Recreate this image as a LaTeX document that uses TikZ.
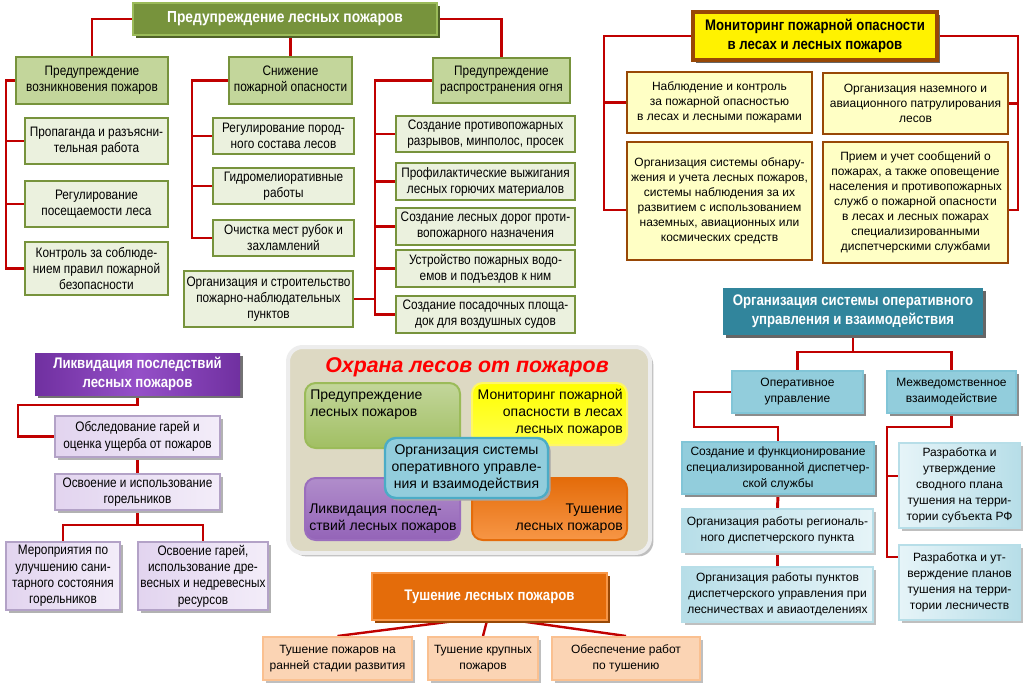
\documentclass[tikz,border=0pt]{standalone}
\usepackage{fontspec}
\setmainfont{Liberation Sans}
\newfontfamily\nar{Liberation Sans}[FakeStretch=0.86]
\usetikzlibrary{shadows,calc,backgrounds}
\definecolor{cred}{HTML}{C00000}
\definecolor{gdark}{HTML}{77933C}
\definecolor{glight}{HTML}{9BBB59}
\definecolor{gmid}{HTML}{C3D69B}
\definecolor{gpale}{HTML}{EBF1DE}
\definecolor{gshad}{HTML}{4F6228}
\definecolor{ybrown}{HTML}{984806}
\definecolor{ypale}{HTML}{FFFFC5}
\definecolor{pdark}{HTML}{7030A0}
\definecolor{plight}{HTML}{9550C8}
\definecolor{pbord}{HTML}{B3A2C7}
\definecolor{ppale}{HTML}{E2D4EF}
\definecolor{ppale2}{HTML}{F3EDF9}
\definecolor{bdark}{HTML}{31859C}
\definecolor{bmid}{HTML}{92CDDC}
\definecolor{bbord}{HTML}{4BACC6}
\definecolor{blight}{HTML}{B7DEE8}
\definecolor{bpale}{HTML}{E6F4F8}
\definecolor{odark}{HTML}{E46C0A}
\definecolor{omid}{HTML}{F79646}
\definecolor{opale}{HTML}{FBD4B4}
\definecolor{obord}{HTML}{FAC090}
\definecolor{cframe}{HTML}{DDD9C3}
\newcommand\mybox[7]{%
 \pgfmathsetmacro\bX{(#3+#5)/2}%
 \pgfmathsetmacro\bY{(#4+#6)/2}%
 \pgfmathsetmacro\bW{(#5-#3)*0.75}%
 \pgfmathsetmacro\bH{(#6-#4)*0.75}%
 \node[#1, minimum width=\bW pt, minimum height=\bH pt] (#2) at (\bX,\bY) {#7};}
\tikzset{
 conn/.style={draw=cred, line width=2.2pt},
 base/.style={align=center, inner sep=1pt},
 gtitle/.style={base, fill=gdark, draw=glight, line width=2pt, text=white,
   font=\nar\bfseries\fontsize{12}{14}\selectfont,
   drop shadow={shadow xshift=2.5pt, shadow yshift=-2.5pt, fill=gshad, opacity=1}},
 gpar/.style={base, fill=gmid, draw=gdark, line width=2pt, font=\nar\fontsize{10.3}{12}\selectfont},
 gch/.style={base, fill=gpale, draw=gdark, line width=2pt, font=\nar\fontsize{10.3}{12}\selectfont},
 ytitle/.style={base, fill=yellow, draw=ybrown, line width=2.5pt,
   font=\nar\bfseries\fontsize{11.5}{14}\selectfont,
   drop shadow={shadow xshift=2.5pt, shadow yshift=-2.5pt, fill=black!60, opacity=1}},
 ych/.style={base, fill=ypale, draw=ybrown, line width=2.2pt, font=\fontsize{9}{11.3}\selectfont},
 ptitle/.style={base, left color=pdark, right color=pdark, middle color=plight, text=white,
   font=\nar\bfseries\fontsize{11.5}{14}\selectfont,
   drop shadow={shadow xshift=2.5pt, shadow yshift=-2.5pt, fill=black!55, opacity=1}},
 pch/.style={base, left color=ppale, right color=ppale2, draw=pbord, line width=1.8pt,
   font=\nar\fontsize{10.3}{12.3}\selectfont,
   drop shadow={shadow xshift=2pt, shadow yshift=-2pt, fill=black!30, opacity=1}},
 btitle/.style={base, fill=bdark, text=white,
   font=\nar\bfseries\fontsize{11.5}{14}\selectfont,
   drop shadow={shadow xshift=2.5pt, shadow yshift=-2.5pt, fill=black!60, opacity=1}},
 bmidbox/.style={base, fill=bmid, draw=bbord!70, line width=1.5pt, font=\fontsize{9}{12}\selectfont,
   drop shadow={shadow xshift=2pt, shadow yshift=-2pt, fill=black!45, opacity=1}},
 bch/.style={base, left color=blight, right color=bpale, draw=blight, line width=1.5pt,
   font=\fontsize{9}{12}\selectfont,
   drop shadow={shadow xshift=2pt, shadow yshift=-2pt, fill=black!25, opacity=1}},
 bchr/.style={base, left color=bpale, right color=blight, draw=blight, line width=1.5pt,
   font=\fontsize{9}{12}\selectfont,
   drop shadow={shadow xshift=2pt, shadow yshift=-2pt, fill=black!25, opacity=1}},
 otitle/.style={base, fill=odark, draw=omid, line width=1pt, text=white,
   font=\nar\bfseries\fontsize{11.5}{14}\selectfont,
   drop shadow={shadow xshift=2.5pt, shadow yshift=-2.5pt, fill=ybrown, opacity=1}},
 och/.style={base, fill=opale, draw=obord, line width=1.5pt, font=\fontsize{9}{12}\selectfont,
   drop shadow={shadow xshift=2pt, shadow yshift=-2pt, fill=black!25, opacity=1}},
 cbox/.style={rounded corners=8pt, line width=1.5pt, minimum width=0pt},
 ctext/.style={inner sep=0pt, font=\fontsize{10.5}{12.8}\selectfont}
}
\begin{document}
\begin{tikzpicture}[x=0.75pt,y=-0.75pt]
\useasboundingbox (0,0) rectangle (1024,688);
% ---------- Предупреждение ----------
\mybox{gtitle}{pt}{133}{3}{437}{35}{Предупреждение лесных пожаров}
\mybox{gpar}{a}{16}{57}{168}{104}{Предупреждение\\возникновения пожаров}
\mybox{gpar}{s}{229}{57}{352}{104}{Снижение\\пожарной опасности}
\mybox{gpar}{c}{433}{58}{570}{103}{Предупреждение\\распространения огня}
\mybox{gch}{a1}{25}{118}{168}{164}{Пропаганда и разъясни-\\тельная работа}
\mybox{gch}{a2}{25}{181}{168}{227}{Регулирование\\посещаемости леса}
\mybox{gch}{a3}{25}{242}{168}{295}{Контроль за соблюде-\\нием правил пожарной\\безопасности}
\mybox{gch}{s1}{213}{118}{354}{154}{Регулирование пород-\\ного состава лесов}
\mybox{gch}{s2}{213}{168}{354}{204}{Гидромелиоративные\\работы}
\mybox{gch}{s3}{213}{220}{354}{256}{Очистка мест рубок и\\захламлений}
\mybox{gch}{s4}{184}{271}{353}{327}{Организация и строительство\\пожарно-наблюдательных\\пунктов}
\mybox{gch}{c1}{396}{116}{575}{152}{Создание противопожарных\\разрывов, минполос, просек}
\mybox{gch}{c2}{396}{163}{575}{200}{Профилактические выжигания\\лесных горючих материалов}
\mybox{gch}{c3}{396}{208}{575}{245}{Создание лесных дорог проти-\\вопожарного назначения}
\mybox{gch}{c4}{396}{250}{575}{287}{Устройство пожарных водо-\\емов и подъездов к ним}
\mybox{gch}{c5}{396}{296}{575}{333}{Создание посадочных площа-\\док для воздушных судов}
% ---------- Мониторинг ----------
\mybox{ytitle}{m}{693}{12}{937}{60}{Мониторинг пожарной опасности\\в лесах и лесных пожаров}
\mybox{ych}{m1}{627}{72}{812}{133}{Наблюдение и контроль\\за пожарной опасностью\\в лесах и лесными пожарами}
\mybox{ych}{m2}{823}{73}{1008}{134}{Организация наземного и\\авиационного патрулирования\\лесов}
\mybox{ych}{m3}{627}{142}{812}{260}{Организация системы обнару-\\жения и учета лесных пожаров,\\системы наблюдения за их\\развитием с использованием\\наземных, авиационных или\\космических средств}
\mybox{ych}{m4}{823}{142}{1008}{263}{Прием и учет сообщений о\\пожарах, а также оповещение\\населения и противопожарных\\служб о пожарной опасности\\в лесах и лесных пожарах\\специализированными\\диспетчерскими службами}
% ---------- Ликвидация ----------
\mybox{ptitle}{lt}{35}{353}{240}{395}{Ликвидация последствий\\лесных пожаров}
\mybox{pch}{l1}{55}{416}{220}{457}{Обследование гарей и\\оценка ущерба от пожаров}
\mybox{pch}{l2}{55}{474}{220}{510}{Освоение и использование\\горельников}
\mybox{pch}{l3}{6}{542}{120}{610}{Мероприятия по\\улучшению сани-\\тарного состояния\\горельников}
\mybox{pch}{l4}{138}{542}{268}{610}{Освоение гарей,\\использование дре-\\весных и недревесных\\ресурсов}
% ---------- Оперативное управление ----------
\mybox{btitle}{bt}{723}{288}{983}{335}{Организация системы оперативного\\управления и взаимодействия}
\mybox{bmidbox}{b1}{732}{371}{863}{413}{Оперативное\\управление}
\mybox{bmidbox}{b2}{887}{371}{1016}{413}{Межведомственное\\взаимодействие}
\mybox{bmidbox}{bb3}{682}{442}{874}{494}{Создание и функционирование\\специализированной диспетчер-\\ской службы}
\mybox{bch}{bb4}{682}{509}{873}{552}{Организация работы региональ-\\ного диспетчерского пункта}
\mybox{bch}{bb5}{682}{567}{873}{622}{Организация работы пунктов\\диспетчерского управления при\\лесничествах и авиаотделениях}
\mybox{bchr}{bb6}{899}{443}{1020}{528}{Разработка и\\утверждение\\сводного плана\\тушения на терри-\\тории субъекта РФ}
\mybox{bchr}{bb7}{899}{545}{1020}{620}{Разработка и ут-\\верждение планов\\тушения на терри-\\тории лесничеств}
% ---------- Тушение ----------
\mybox{otitle}{t}{372}{573}{607}{620}{Тушение лесных пожаров}
\mybox{och}{t1}{263}{637}{412}{680}{Тушение пожаров на\\ранней стадии развития}
\mybox{och}{t2}{428}{637}{538}{680}{Тушение крупных\\пожаров}
\mybox{och}{t3}{552}{637}{700}{680}{Обеспечение работ\\по тушению}
% ---------- Центр ----------
\mybox{cbox, fill=cframe, draw=white!93!black, line width=3pt, rounded corners=11pt,
  drop shadow={shadow xshift=2.5pt, shadow yshift=-2.5pt, fill=black!25, opacity=1}}{frame}{288}{347}{650}{553}{}
\node[font=\bfseries\itshape\fontsize{16}{18}\selectfont, text=red] (ctitle) at (467,367) {Охрана лесов от пожаров};
\mybox{cbox, top color=gmid, bottom color=glight!85!gmid, draw=glight}{cg}{305}{383}{460}{448}{}
\mybox{cbox, top color=yellow, bottom color=yellow!70!white, draw=yellow!60!white}{cy}{472}{383}{627}{445}{}
\mybox{cbox, top color=pdark!55!white, bottom color=pdark!75!white, draw=pdark!70!white}{cp}{305}{478}{460}{540}{}
\mybox{cbox, top color=odark, bottom color=omid, draw=odark}{co}{472}{478}{627}{540}{}
\node[ctext, anchor=north west, align=left] (cgt) at ($(cg.north west)+(6,8)$) {Предупреждение\\лесных пожаров};
\node[ctext, anchor=north east, align=right] (cyt) at ($(cy.north east)+(-5,7)$) {Мониторинг пожарной\\опасности в лесах\\лесных пожаров};
\node[ctext, anchor=south west, align=left] (cpt) at ($(cp.south west)+(5,-7)$) {Ликвидация послед-\\ствий лесных пожаров};
\node[ctext, anchor=south east, align=right] (cot) at ($(co.south east)+(-5,-7)$) {Тушение\\лесных пожаров};
\mybox{cbox, fill=bmid, draw=bbord, line width=1.8pt, ctext, align=center,
  drop shadow={shadow xshift=2pt, shadow yshift=-2pt, fill=black!35, opacity=1}}{cb}{385}{438}{548}{498}{Организация системы\\оперативного управле-\\ния и взаимодействия}
% ---------- connectors ----------
\begin{scope}[on background layer]
\fill[white] (0,0) rectangle (1024,688);
\coordinate (gl) at (6,0); \coordinate (gm) at (192,0); \coordinate (gr) at (375,0);
\draw[conn] (pt.west) -| (a.north);
\draw[conn] (s.north) -- (s.north |- pt.south);
\draw[conn] (pt.east) -| (c.north);
\draw[conn] (a.west) -| (gl |- a3.west) -- (a3.west);
\draw[conn] (a1.west) -- (gl |- a1.west);
\draw[conn] (a2.west) -- (gl |- a2.west);
\draw[conn] (s.west) -| (gm |- s3.west) -- (s3.west);
\draw[conn] (s1.west) -- (gm |- s1.west);
\draw[conn] (s2.west) -- (gm |- s2.west);
\draw[conn] (c.west) -| (gr |- c5.west) -- (c5.west);
\draw[conn] (c1.west) -- (gr |- c1.west);
\draw[conn] (c2.west) -- (gr |- c2.west);
\draw[conn] (c3.west) -- (gr |- c3.west);
\draw[conn] (c4.west) -- (gr |- c4.west);
\draw[conn] (s4.east) -- (gr |- s4.east);
\coordinate (ml) at (604,210); \coordinate (mr) at (1018,210);
\draw[conn] (m.west) -| (ml) -- (ml -| m3.west);
\draw[conn] (m1.west) -- (ml |- m1.west);
\draw[conn] (m.east) -| (mr) -- (mr -| m4.east);
\draw[conn] (m2.east) -- (mr |- m2.east);
\coordinate (lq1) at (18,405); \coordinate (lq2) at (137.5,525);
\draw[conn] (lt.south) |- (lq1) |- (l1.west);
\draw[conn] (l1.south) -- (l2.north);
\draw[conn] (l2.south) -- (lq2);
\draw[conn] (l3.north) |- (lq2) -| (l4.north);
\coordinate (bj) at (853,352);
\draw[conn] (bt.south) -- (bj);
\draw[conn] (b1.north) |- (bj) -| (b2.north);
\coordinate (bq1) at (694,427);
\draw[conn] (b1.west) -| (bq1) -| (bb3.north);
\draw[conn] (bb3.south) -- (bb4.north);
\draw[conn] (bb4.south) -- (bb5.north);
\coordinate (bq2) at (887,427); \coordinate (bq3) at (887,557); \coordinate (bq4) at (887,476);
\draw[conn] (b2.south) |- (bq2) -- (bq3) -- (bq3 -| bb7.west);
\draw[conn] (bq4) -- (bq4 -| bb6.west);
\draw[conn, line width=1.8pt] ($(t.south)+(-32,0)$) -- (t1.north);
\draw[conn, line width=1.8pt] ($(t.south)+(-2.5,0)$) -- (t2.north);
\draw[conn, line width=1.8pt] ($(t.south)+(27.5,0)$) -- (t3.north);
\end{scope}
\end{tikzpicture}
\end{document}
